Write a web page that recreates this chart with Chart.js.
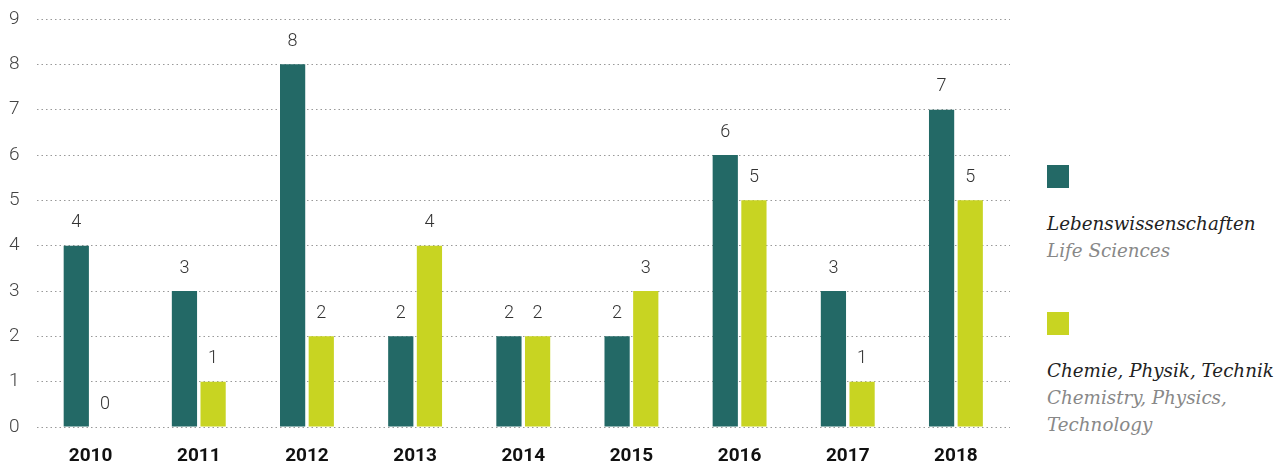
<!DOCTYPE html>
<html>
<head>
<meta charset="utf-8">
<script src="https://cdn.jsdelivr.net/npm/chart.js@4"></script>
<style>
  body { margin: 0; background: #fff; }
  #wrap { position: relative; width: 1279px; height: 466px; }
  #chart { position: absolute; left: 0; top: 0; }
  .legend { position: absolute; left: 1047px; font-family: "DejaVu Serif", serif; font-style: italic; font-size: 18.3px; line-height: 27px; }
  .legend .sw { width: 22px; height: 23px; margin-bottom: 22px; }
  .legend .de { color: #222; }
  .legend .en { color: #888; }
</style>
</head>
<body>
<div id="wrap">
  <canvas id="chart" width="1030" height="466"></canvas>
  <div class="legend" style="top:165px">
    <div class="sw" style="background:#236966"></div>
    <div class="de">Lebenswissenschaften</div>
    <div class="en">Life Sciences</div>
  </div>
  <div class="legend" style="top:312px">
    <div class="sw" style="background:#c8d422"></div>
    <div class="de">Chemie, Physik, Technik</div>
    <div class="en">Chemistry, Physics,<br>Technology</div>
  </div>
</div>
<script>
const years = ['2010', '2011', '2012', '2013', '2014', '2015', '2016', '2017', '2018'];
const lifeSciences = [4, 3, 8, 2, 2, 2, 6, 3, 7];
const chemPhysTech = [0, 1, 2, 4, 2, 3, 5, 1, 5];
const yTicks = [0, 1, 2, 3, 4, 5, 6, 7, 8, 9];

// draws the number above each bar
const valueLabels = {
    id: 'valueLabels',
    afterDatasetsDraw(chart) {
        const ctx = chart.ctx;
        ctx.save();
        ctx.font = '300 18px Roboto';
        ctx.fillStyle = '#333';
        ctx.textAlign = 'center';
        ctx.textBaseline = 'middle';
        chart.data.datasets.forEach((ds, i) => {
            chart.getDatasetMeta(i).data.forEach((bar, j) => {
                ctx.fillText(String(ds.data[j]), bar.x, bar.y - 23);
            });
        });
        ctx.restore();
    }
};

new Chart(document.getElementById('chart'), {
    type: 'bar',
    data: {
        labels: years,
        datasets: [{
            label: 'Lebenswissenschaften',
            data: lifeSciences,
            backgroundColor: '#236966',
            categoryPercentage: 0.53,
            barPercentage: 0.88
        }, {
            label: 'Chemie, Physik, Technik',
            data: chemPhysTech,
            backgroundColor: '#c8d422',
            categoryPercentage: 0.53,
            barPercentage: 0.88
        }]
    },
    options: {
        responsive: false,
        animation: false,
        // x tick padding is counted twice in the axis box, so pull the bottom back
        layout: { padding: { left: 9, top: 19, right: 20, bottom: -20 } },
        plugins: {
            legend: { display: false },
            tooltip: { enabled: false }
        },
        scales: {
            x: {
                grid: { display: false, drawTicks: false },
                border: { display: false },
                ticks: {
                    padding: 20,
                    color: '#111',
                    font: { family: 'Roboto', size: 19, weight: 'bold', lineHeight: 1 }
                }
            },
            y: {
                min: 0,
                max: 9,
                afterBuildTicks(axis) { axis.ticks = yTicks.map(v => ({ value: v })); },
                // invisible tick marks give the gap between labels and grid
                grid: { color: '#999', lineWidth: 1, drawTicks: true, tickLength: 17, tickColor: 'rgba(0,0,0,0)' },
                border: { display: false, dash: [1.5, 3] },
                ticks: {
                    padding: 0,
                    color: '#444',
                    font: { family: 'Roboto', size: 19, weight: '300' }
                }
            }
        }
    },
    plugins: [valueLabels]
});
</script>
</body>
</html>
